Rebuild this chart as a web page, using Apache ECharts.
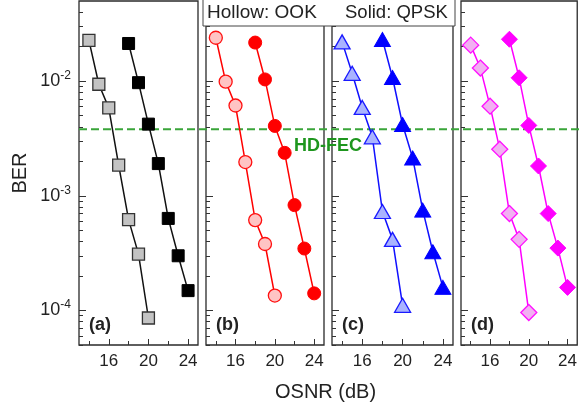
<!DOCTYPE html>
<html>
<head>
<meta charset="utf-8">
<script src="https://cdn.jsdelivr.net/npm/echarts@6/dist/echarts.min.js"></script>
<style>
html,body{margin:0;padding:0;background:#fff;}
#chart{width:580px;height:411px;}
</style>
</head>
<body>
<div id="chart"></div>
<script>
// ---- data ----
const osnrOOK = [14, 15, 16, 17, 18, 19, 20];
const osnrQPSK = [18, 19, 20, 21, 22, 23, 24];
const panelLabels = ['(a)', '(b)', '(c)', '(d)'];
const berOOK_a = [0.0227, 0.0094, 0.00585, 0.00185, 6.2e-4, 3.1e-4, 8.6e-5];
const berQPSK_a = [0.0213, 0.0097, 0.00422, 0.00191, 6.35e-4, 3.0e-4, 1.49e-4];
const berOOK_b = [0.0239, 0.0099, 0.00613, 0.00197, 6.14e-4, 3.8e-4, 1.35e-4];
const berQPSK_b = [0.0217, 0.01035, 0.00407, 0.00237, 8.3e-4, 3.47e-4, 1.41e-4];
const berOOK_c = [0.022, 0.0117, 0.0059, 0.00327, 7.3e-4, 4.17e-4, 1.11e-4];
const berQPSK_c = [0.0231, 0.01076, 0.00419, 0.00214, 7.5e-4, 3.25e-4, 1.59e-4];
const berOOK_d = [0.0206, 0.013, 0.00605, 0.00255, 7.0e-4, 4.17e-4, 9.6e-5];
const berQPSK_d = [0.0232, 0.0107, 0.00411, 0.00182, 7.0e-4, 3.5e-4, 1.59e-4];
const hdFEC = 3.8e-3;
const xMajorTicks = [16, 20, 24];
const xMinorTicks = [14, 18, 22];
const yMajorTicks = [1e-4, 1e-3, 1e-2];
const yMinorTicks = [5e-5, 6e-5, 7e-5, 8e-5, 9e-5,
  2e-4, 3e-4, 4e-4, 5e-4, 6e-4, 7e-4, 8e-4, 9e-4,
  2e-3, 3e-3, 4e-3, 5e-3, 6e-3, 7e-3, 8e-3, 9e-3,
  2e-2, 3e-2, 4e-2];
const xRange = [13, 25];
const yRange = [5e-5, 5e-2];

// ---- styling ----
const FONT = "'Liberation Sans', Arial, sans-serif";
const grids = [
  {left: 79, width: 119},
  {left: 206, width: 118},
  {left: 332, width: 121},
  {left: 461, width: 119}
];
const TOP = 1, H = 344;
const panelStyles = [
  {sym: 'rect', size: 12, hollowFill: '#c3c3c3', hollowBorder: '#333333', solid: '#000000', line: '#111111'},
  {sym: 'circle', size: 13, hollowFill: '#ffc4c4', hollowBorder: '#ff1010', solid: '#ff0000', line: '#ff0000'},
  {sym: 'triangle', size: [16, 14], hollowFill: '#a9b3ff', hollowBorder: '#1a1aff', solid: '#0000ff', line: '#1010ff'},
  {sym: 'diamond', size: [16, 16], hollowFill: '#f2b0f2', hollowBorder: '#ff10ff', solid: '#ff00ff', line: '#ff00ff'}
];
const ookData = [berOOK_a, berOOK_b, berOOK_c, berOOK_d];
const qpskData = [berQPSK_a, berQPSK_b, berQPSK_c, berQPSK_d];

const option = {
  animation: false,
  backgroundColor: '#ffffff',
  grid: [], xAxis: [], yAxis: [], series: [], graphic: []
};

grids.forEach((g, i) => {
  option.grid.push({left: g.left, top: TOP, width: g.width, height: H, show: true,
    borderColor: '#2a2a2a', borderWidth: 1.3, backgroundColor: 'transparent'});
  // major x
  option.xAxis.push({gridIndex: i, type: 'value', position: 'bottom', min: xRange[0], max: xRange[1],
    axisLine: {show: false}, splitLine: {show: false},
    axisTick: {show: true, inside: true, length: 6, customValues: xMajorTicks, lineStyle: {color: '#333', width: 1}},
    axisLabel: {show: true, customValues: xMajorTicks, fontFamily: FONT, fontSize: 17, color: '#222', margin: 8}
  });
  // minor x
  option.xAxis.push({gridIndex: i, type: 'value', position: 'bottom', min: xRange[0], max: xRange[1],
    axisLine: {show: false}, splitLine: {show: false},
    axisTick: {show: true, inside: true, length: 4, customValues: xMinorTicks, lineStyle: {color: '#333', width: 1}},
    axisLabel: {show: false}
  });
  // major y
  option.yAxis.push({gridIndex: i, type: 'log', logBase: 10, position: 'left', min: yRange[0], max: yRange[1],
    axisLine: {show: false}, splitLine: {show: false}, minorTick: {show: false},
    axisTick: {show: true, inside: true, length: 7, customValues: yMajorTicks, lineStyle: {color: '#333', width: 1}},
    axisLabel: {show: i === 0, customValues: yMajorTicks, margin: 8, fontFamily: FONT, fontSize: 18, color: '#222',
      formatter: v => '10{sup|' + Math.round(Math.log10(v)) + '}',
      rich: {sup: {fontSize: 12, fontFamily: FONT, color: '#222', padding: [0, 0, 11, 0]}}},
    name: i === 0 ? 'BER' : '', nameLocation: 'middle', nameGap: 49, nameRotate: 90,
    nameTextStyle: {fontFamily: FONT, fontSize: 20, color: '#222'}
  });
  // minor y
  option.yAxis.push({gridIndex: i, type: 'log', logBase: 10, position: 'left', min: yRange[0], max: yRange[1],
    axisLine: {show: false}, splitLine: {show: false}, minorTick: {show: false},
    axisTick: {show: true, inside: true, length: 4, customValues: yMinorTicks, lineStyle: {color: '#333', width: 1}},
    axisLabel: {show: false}
  });
  const st = panelStyles[i];
  option.series.push({
    type: 'line', xAxisIndex: 2 * i, yAxisIndex: 2 * i,
    data: osnrOOK.map((x, k) => [x, ookData[i][k]]),
    symbol: st.sym, symbolSize: st.size, showAllSymbol: true, clip: false,
    lineStyle: {color: st.line, width: 1.5},
    itemStyle: {color: st.hollowFill, borderColor: st.hollowBorder, borderWidth: 1.3},
    z: 3
  });
  option.series.push({
    type: 'line', xAxisIndex: 2 * i, yAxisIndex: 2 * i,
    data: osnrQPSK.map((x, k) => [x, qpskData[i][k]]),
    symbol: st.sym, symbolSize: st.size, showAllSymbol: true, clip: false,
    lineStyle: {color: st.line, width: 1.5},
    itemStyle: {color: st.solid, borderColor: st.solid, borderWidth: 1},
    z: 3
  });
  option.graphic.push({type: 'text', left: g.left + 10, top: 316,
    style: {text: panelLabels[i], font: 'bold 18px ' + FONT, fill: '#222'}});
});

// overlay grid for HD-FEC threshold spanning all panels
option.grid.push({left: 79, top: TOP, width: 501, height: H, show: false});
option.xAxis.push({gridIndex: 4, type: 'value', min: 0, max: 1, show: false});
option.yAxis.push({gridIndex: 4, type: 'log', logBase: 10, min: yRange[0], max: yRange[1], show: false});
option.series.push({
  type: 'line', xAxisIndex: 8, yAxisIndex: 8, z: 2, silent: true,
  data: [[0, hdFEC], [1, hdFEC]], symbol: 'none',
  lineStyle: {color: '#3aa53a', width: 2, type: [8, 4]}
});

option.graphic.push(
  {type: 'text', left: 294, top: 137, z: 10,
    style: {text: 'HD-FEC', font: 'bold 18px ' + FONT, fill: '#1e961e'}},
  {type: 'rect', z: 20, shape: {x: 203, y: -2, width: 252, height: 28},
    style: {fill: '#ffffff', stroke: '#444444', lineWidth: 1}},
  {type: 'text', z: 21, left: 207, top: 3,
    style: {text: 'Hollow: OOK', font: '19px ' + FONT, fill: '#222'}},
  {type: 'text', z: 21, left: 345, top: 3,
    style: {text: 'Solid: QPSK', font: '18.5px ' + FONT, fill: '#222'}},
  {type: 'text', z: 10, left: 275, top: 382,
    style: {text: 'OSNR (dB)', font: '20px ' + FONT, fill: '#222'}}
);

const chart = echarts.init(document.getElementById('chart'), null, {renderer: 'canvas'});
chart.setOption(option);
</script>
</body>
</html>
